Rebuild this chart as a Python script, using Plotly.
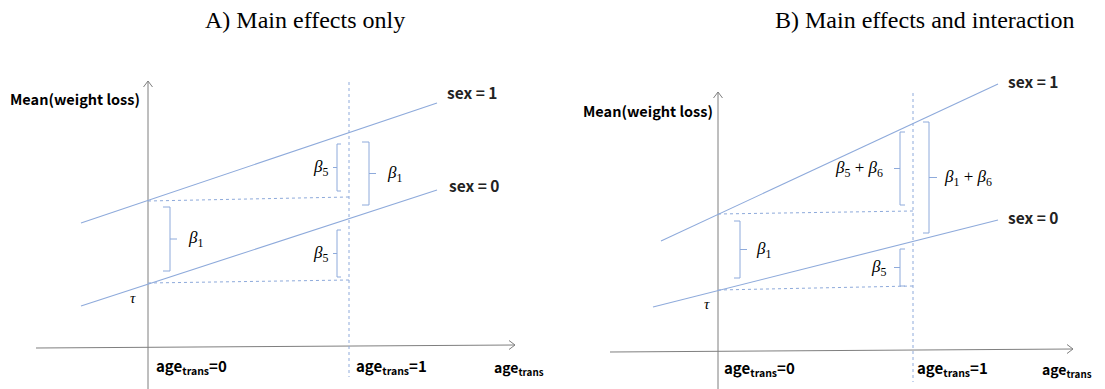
import plotly.graph_objects as go

# ---------------- Panel A (main effects only) ----------------
A_title = "A) Main effects only"
A_xaxis_x = [36, 515]
A_xaxis_y = [348, 345]
A_yaxis_x = [148, 148]
A_yaxis_y = [389, 81]
A_sex1_x = [81, 437]
A_sex1_y = [223, 103]
A_sex0_x = [81, 437]
A_sex0_y = [306, 190]
A_ref_x = [349, 349]
A_ref_y = [82, 377]
A_dothi_x = [148, 349]
A_dothi_y = [201, 197]
A_dotlo_x = [148, 349]
A_dotlo_y = [283, 280]
# brackets: vertical x, top y, bottom y, kind, label, label x
A_br_x = [337, 369, 170, 337]
A_br_top = [144, 142, 207, 230]
A_br_bot = [191, 205, 271, 277]
A_br_kind = ["[", "}", "}", "["]
A_br_label = ["5", "1", "1", "5"]
A_br_lx = [320, 394, 195, 320]

# ---------------- Panel B (main effects and interaction) ----------------
B_title = "B) Main effects and interaction"
B_xaxis_x = [610, 1073]
B_xaxis_y = [352, 349]
B_yaxis_x = [718, 718]
B_yaxis_y = [389, 92]
B_sex1_x = [661, 998]
B_sex1_y = [241, 84]
B_sex0_x = [653, 998]
B_sex0_y = [307, 220]
B_ref_x = [913, 913]
B_ref_y = [93, 382]
B_dothi_x = [718, 913]
B_dothi_y = [214, 211]
B_dotlo_x = [718, 913]
B_dotlo_y = [290, 286]
B_br_x = [740, 900, 929, 900]
B_br_top = [221, 132, 122, 249]
B_br_bot = [278, 205, 233, 286]
B_br_kind = ["}", "[", "}", "["]
B_br_label = ["1", "5+6", "1+6", "5"]
B_br_lx = [763, 859, 968, 878]

BLUE = "#8eaadb"
GREY = "#7f7f7f"
SANS = "Noto Sans CJK JP"
SERIF = "Liberation Serif"

# the page body has an 8px margin; the figure is sized/ranged so that
# data units equal page pixels
PAD = 8
W, H = 1105, 389

fig = go.Figure()


def add_line(xs, ys, color=BLUE, dash="solid", width=1.1):
    fig.add_trace(go.Scatter(x=xs, y=ys, mode="lines", hoverinfo="skip",
                             line=dict(color=color, width=width, dash=dash),
                             showlegend=False))


def beta_text(code):
    parts = code.split("+")
    return " + ".join(f"<i>β</i><sub>{p}</sub>" for p in parts)


def add_text(x, y, text, size, family=SANS, color="black", anchor="center"):
    fig.add_annotation(x=x, y=y, text=text, showarrow=False,
                       xanchor=anchor, yanchor="middle",
                       font=dict(family=family, size=size, color=color))


def panel(xax_x, xax_y, yax_x, yax_y, s1x, s1y, s0x, s0y, refx, refy,
          dhx, dhy, dlx, dly, brx, brt, brb, brk, brl, brlx, title, tx,
          ylab_xy, sex1_xy, sex0_xy, tau_xy, tick0_xy, tick1_xy, xlab_xy, serif_len, tick_len):
    # axes
    add_line(xax_x, xax_y, color=GREY, width=1)
    add_line(yax_x, yax_y, color=GREY, width=1)
    # arrowheads (open chevrons)
    ex, ey = xax_x[1], xax_y[1]
    add_line([ex - 6, ex, ex - 6], [ey - 4.5, ey, ey + 4.5], color=GREY, width=1)
    ux, uy = yax_x[1], yax_y[1]
    add_line([ux - 4.5, ux, ux + 4.5], [uy + 6, uy, uy + 6], color=GREY, width=1)
    # reference & dotted helpers
    add_line(refx, refy, dash="dot", width=1)
    add_line(dhx, dhy, dash="dot", width=1)
    add_line(dlx, dly, dash="dot", width=1)
    # regression lines
    add_line(s1x, s1y, width=1.1)
    add_line(s0x, s0y, width=1.1)
    # brackets
    for x, t, b, k, lab, lx, sl, tl in zip(brx, brt, brb, brk, brl, brlx, serif_len, tick_len):
        m = (t + b) / 2
        if k == "[":
            add_line([x + sl, x, x, x + sl], [t, t, b, b], width=1)
            add_line([x, x - tl], [m, m], width=1)
        else:
            add_line([x - sl, x, x, x - sl], [t, t, b, b], width=1)
            add_line([x, x + tl], [m, m], width=1)
        add_text(lx, m, beta_text(lab), 17, family=SERIF)
    # texts
    add_text(tx[0], tx[1], title, 24, family=SERIF)
    add_text(ylab_xy[0], ylab_xy[1], "<b>Mean(weight loss)</b>", 14.5)
    add_text(sex1_xy[0], sex1_xy[1], "<b>sex = 1</b>", 15.5, color="#222222")
    add_text(sex0_xy[0], sex0_xy[1], "<b>sex = 0</b>", 15.5, color="#222222")
    add_text(tau_xy[0], tau_xy[1], "<i>τ</i>", 15, family=SERIF)
    add_text(tick0_xy[0], tick0_xy[1], "<b>age<sub>trans</sub>=0</b>", 15)
    add_text(tick1_xy[0], tick1_xy[1], "<b>age<sub>trans</sub>=1</b>", 15)
    add_text(xlab_xy[0], xlab_xy[1], "<b>age<sub>trans</sub></b>", 14, anchor="right")


panel(A_xaxis_x, A_xaxis_y, A_yaxis_x, A_yaxis_y, A_sex1_x, A_sex1_y, A_sex0_x, A_sex0_y,
      A_ref_x, A_ref_y, A_dothi_x, A_dothi_y, A_dotlo_x, A_dotlo_y,
      A_br_x, A_br_top, A_br_bot, A_br_kind, A_br_label, A_br_lx, A_title, (305, 20),
      (75, 98), (472, 92), (474, 185), (133, 298), (191, 366), (391, 366), (546, 368),
      [4, 7, 7, 4], [4, 7, 7, 4])

panel(B_xaxis_x, B_xaxis_y, B_yaxis_x, B_yaxis_y, B_sex1_x, B_sex1_y, B_sex0_x, B_sex0_y,
      B_ref_x, B_ref_y, B_dothi_x, B_dothi_y, B_dotlo_x, B_dotlo_y,
      B_br_x, B_br_top, B_br_bot, B_br_kind, B_br_label, B_br_lx, B_title, (924, 20),
      (648, 110), (1033, 81), (1033, 217), (707, 304), (759, 368), (952, 368), (1094, 370),
      [6, 5, 6, 5], [7, 6, 8, 6])

fig.update_layout(
    width=W - PAD, height=H - PAD,
    margin=dict(l=0, r=0, t=0, b=0),
    paper_bgcolor="white", plot_bgcolor="white",
    xaxis=dict(range=[PAD, W], visible=False, fixedrange=True),
    yaxis=dict(range=[H, PAD], visible=False, fixedrange=True),
    showlegend=False,
)

fig.write_html("out.html")
